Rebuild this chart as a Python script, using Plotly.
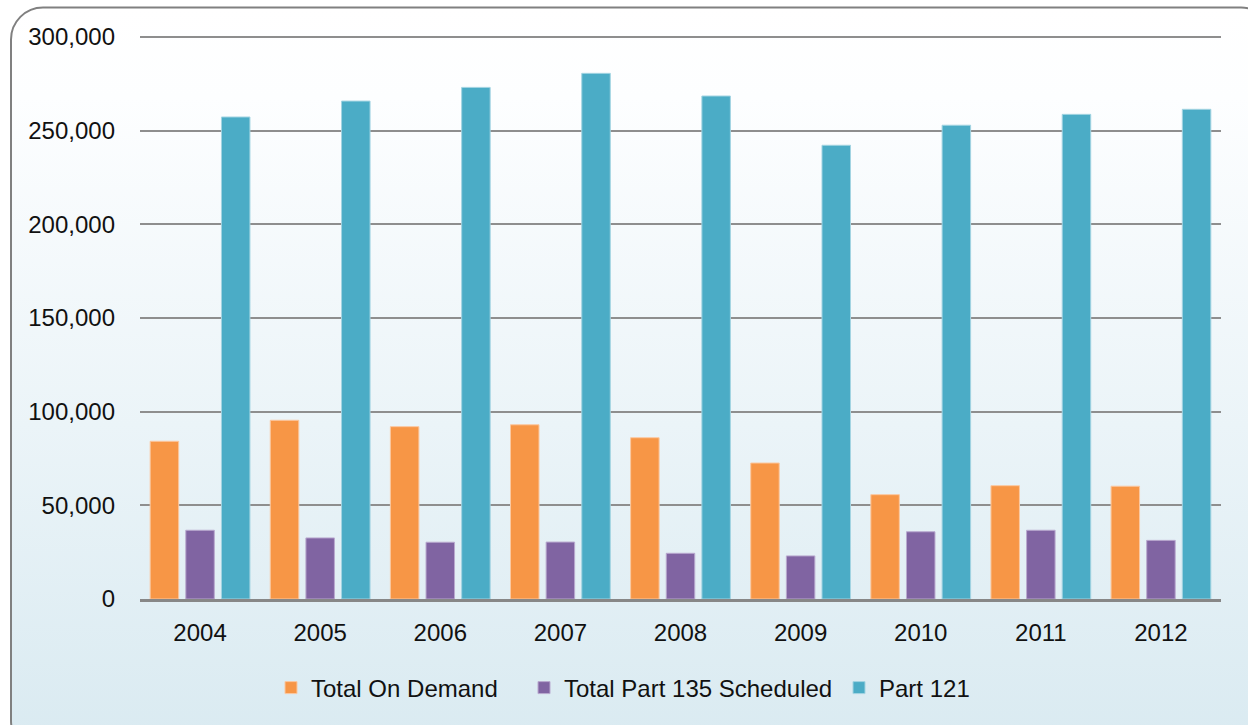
import base64
import plotly.graph_objects as go

# Operations by year
years = ["2004", "2005", "2006", "2007", "2008", "2009", "2010", "2011", "2012"]
on_demand = [84200, 95400, 92000, 93000, 86100, 72600, 55700, 60500, 60200]
part135_scheduled = [36700, 32600, 30300, 30400, 24400, 23000, 35900, 36700, 31300]
part121 = [257300, 265800, 273100, 280600, 268500, 242200, 252900, 258700, 261400]

y_ticks = [0, 50000, 100000, 150000, 200000, 250000, 300000]
y_tick_text = ["0", "50,000", "100,000", "150,000", "200,000", "250,000", "300,000"]

W, H = 1248, 725
L, R, T, B = 140, 27, 37, 126
plot_w, plot_h = W - L - R, H - T - B

FONT = "Liberation Sans, Arial, sans-serif"
TEXT = "#111111"
GRID = "#8e8e8e"

# Rounded panel with a soft white-to-blue vertical gradient
svg = f"""<svg xmlns='http://www.w3.org/2000/svg' width='{W}' height='{H}' viewBox='0 0 {W} {H}'>
<defs><linearGradient id='g' x1='0' y1='0' x2='0' y2='1'>
<stop offset='0' stop-color='#ffffff'/><stop offset='0.12' stop-color='#fdfeff'/>
<stop offset='1' stop-color='#d9eaf1'/></linearGradient></defs>
<rect x='11' y='7.5' width='1262' height='745' rx='32' ry='32' fill='url(#g)' stroke='#808080' stroke-width='2'/>
</svg>"""
bg_src = "data:image/svg+xml;base64," + base64.b64encode(svg.encode()).decode()

fig = go.Figure()
series = [
    ("Total On Demand", on_demand, "#F79646", "#fbc8a0", "legend", 271),
    ("Total Part 135 Scheduled", part135_scheduled, "#8064A2", "#b9a9cf", "legend2", 524),
    ("Part 121", part121, "#4BACC6", "#a3d4e2", "legend3", 839),
]
legend_layouts = {}
for name, vals, color, edge, leg, left_px in series:
    fig.add_trace(go.Bar(
        x=years, y=vals, name=name, legend=leg,
        marker=dict(color=color, line=dict(color=edge, width=1)),
    ))
    legend_layouts[leg] = dict(
        orientation="h",
        x=(left_px - L) / plot_w, xanchor="left",
        y=(T + plot_h - 688) / plot_h, yanchor="middle",
        bgcolor="rgba(0,0,0,0)",
        font=dict(family=FONT, size=24, color=TEXT),
        itemwidth=30,
    )

fig.update_layout(
    width=W, height=H,
    margin=dict(l=L, r=R, t=T, b=B),
    paper_bgcolor="white",
    plot_bgcolor="rgba(0,0,0,0)",
    barmode="group",
    bargap=0.11,
    bargroupgap=0.2,
    font=dict(family=FONT, size=24, color=TEXT),
    showlegend=True,
    images=[dict(
        source=bg_src, xref="paper", yref="paper",
        x=-L / plot_w, y=1 + T / plot_h,
        sizex=W / plot_w, sizey=H / plot_h,
        xanchor="left", yanchor="top",
        sizing="stretch", layer="below",
    )],
    # gridline along the top edge of the plotting area
    shapes=[dict(
        type="line", xref="paper", yref="paper",
        x0=0, x1=1, y0=1, y1=1,
        line=dict(color=GRID, width=2), layer="below",
    )],
    **legend_layouts,
)

fig.update_xaxes(
    showgrid=False, showline=True, linecolor="#878787", linewidth=2.5,
    ticks="", ticklabelstandoff=10,
    tickfont=dict(family=FONT, size=24, color=TEXT),
)
fig.update_yaxes(
    range=[0, 300000], tickvals=y_ticks, ticktext=y_tick_text,
    showgrid=True, gridcolor=GRID, gridwidth=2,
    zeroline=False, showline=False, ticks="", ticklabelstandoff=24,
    tickfont=dict(family=FONT, size=24, color=TEXT),
)

fig.write_html("out.html")
